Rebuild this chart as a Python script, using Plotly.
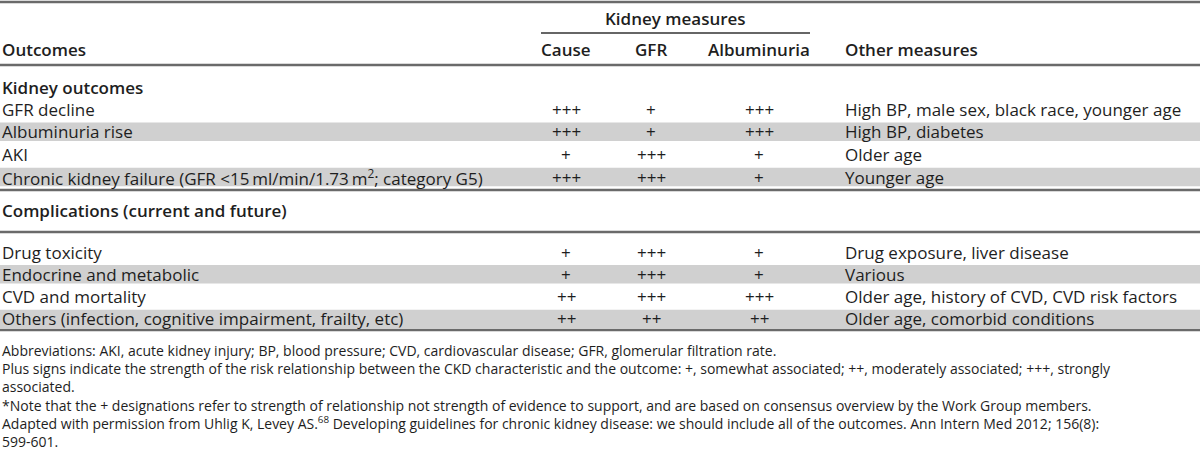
import plotly.graph_objects as go

# ---------------- data ----------------
col_group = "Kidney measures"
col_headers = ["Outcomes", "Cause", "GFR", "Albuminuria", "Other measures"]

section_titles = ["Kidney outcomes", "Complications (current and future)"]

kidney_outcomes = ["GFR decline", "Albuminuria rise", "AKI",
                   "Chronic kidney failure (GFR &lt;15\u2009ml/min/1.73\u2009m<sup>2</sup>; category G5)"]
kidney_cause = ["+++", "+++", "+", "+++"]
kidney_gfr = ["+", "+", "+++", "+++"]
kidney_alb = ["+++", "+++", "+", "+"]
kidney_other = ["High BP, male sex, black race, younger age", "High BP, diabetes",
                "Older age", "Younger age"]

comp_outcomes = ["Drug toxicity", "Endocrine and metabolic", "CVD and mortality",
                 "Others (infection, cognitive impairment, frailty, etc)"]
comp_cause = ["+", "+", "++", "++"]
comp_gfr = ["+++", "+++", "+++", "++"]
comp_alb = ["+", "+", "+++", "++"]
comp_other = ["Drug exposure, liver disease", "Various",
              "Older age, history of CVD, CVD risk factors",
              "Older age, comorbid conditions"]

footnotes = [
    "Abbreviations: AKI, acute kidney injury; BP, blood pressure; CVD, cardiovascular disease; GFR, glomerular filtration rate.",
    "Plus signs indicate the strength of the risk relationship between the CKD characteristic and the outcome: +, somewhat associated; ++, moderately associated; +++, strongly",
    "associated.",
    "*Note that the + designations refer to strength of relationship not strength of evidence to support, and are based on consensus overview by the Work Group members.",
    "Adapted with permission from Uhlig K, Levey AS.<sup>68</sup> Developing guidelines for chronic kidney disease: we should include all of the outcomes. Ann Intern Med 2012; 156(8):",
    "599-601.",
]

# ---------------- layout geometry ----------------
W, H = 1200, 457
FONT = "Open Sans"
FS = 17
FS_NOTE = 14
TXT = "#1e1e1e"
SHADE = "#d0d0d0"
RULE = "#6a6a6a"

x_out = 0
x_cause = 566
x_gfr = 651
x_alb = 759
x_other = 843

annotations = []
shapes = []


def text(x, y, s, anchor="left", size=FS, weight="normal", yanchor="middle"):
    annotations.append(dict(x=x, y=y, xref="x", yref="y", text=s, showarrow=False,
                            xanchor=anchor, yanchor=yanchor, align="left",
                            font=dict(family=FONT, size=size, color=TXT, weight=weight)))


def rule(y, x0=0, x1=W, width=2.4, color=RULE):
    shapes.append(dict(type="line", xref="x", yref="y", x0=x0, x1=x1, y0=y, y1=y,
                       line=dict(color=color, width=width)))


def shade(yc, h=18.5):
    shapes.append(dict(type="rect", xref="x", yref="y", x0=0, x1=W,
                       y0=yc - h / 2, y1=yc + h / 2, fillcolor=SHADE,
                       line=dict(width=0), layer="below"))


def rows(first_y, pitch, outs, c, g, a, o):
    for i in range(len(outs)):
        y = first_y + i * pitch
        if i % 2 == 1:
            shade(y)
        text(x_out, y, outs[i])
        text(x_cause, y, c[i], "center")
        text(x_gfr, y, g[i], "center")
        text(x_alb, y, a[i], "center")
        text(x_other, y, o[i])


# header
rule(2)
text((541 + 810) / 2, 18, col_group, "center", weight=600)
rule(33, 541, 810, width=1.4, color="#333333")
text(x_out, 49, col_headers[0], weight=600)
text(x_cause, 49, col_headers[1], "center", weight=600)
text(x_gfr, 49, col_headers[2], "center", weight=600)
text(x_alb, 49, col_headers[3], "center", weight=600)
text(x_other, 49, col_headers[4], weight=600)
rule(65)

# kidney outcomes
text(x_out, 87, section_titles[0], weight=600)
rows(109, 22.7, kidney_outcomes, kidney_cause, kidney_gfr, kidney_alb, kidney_other)
rule(190)

# complications
text(x_out, 210, section_titles[1], weight=600)
rule(232)
rows(252, 22.3, comp_outcomes, comp_cause, comp_gfr, comp_alb, comp_other)
rule(330)

# footnotes as one multi-line text block
text(x_out, 396, "<br>".join(footnotes), size=FS_NOTE)

fig = go.Figure()
fig.add_trace(go.Scatter(x=[0, W], y=[0, H], mode="markers", marker=dict(opacity=0),
                         hoverinfo="skip", showlegend=False))
fig.update_layout(
    width=W, height=H, margin=dict(l=0, r=0, t=0, b=0),
    paper_bgcolor="white", plot_bgcolor="white",
    xaxis=dict(range=[0, W], visible=False, fixedrange=True),
    yaxis=dict(range=[H, 0], visible=False, fixedrange=True),
    annotations=annotations, shapes=shapes, showlegend=False,
)
fig.write_html("out.html", config={"displayModeBar": False},
               post_script="document.body.style.margin='0';document.body.style.overflow='hidden';")
